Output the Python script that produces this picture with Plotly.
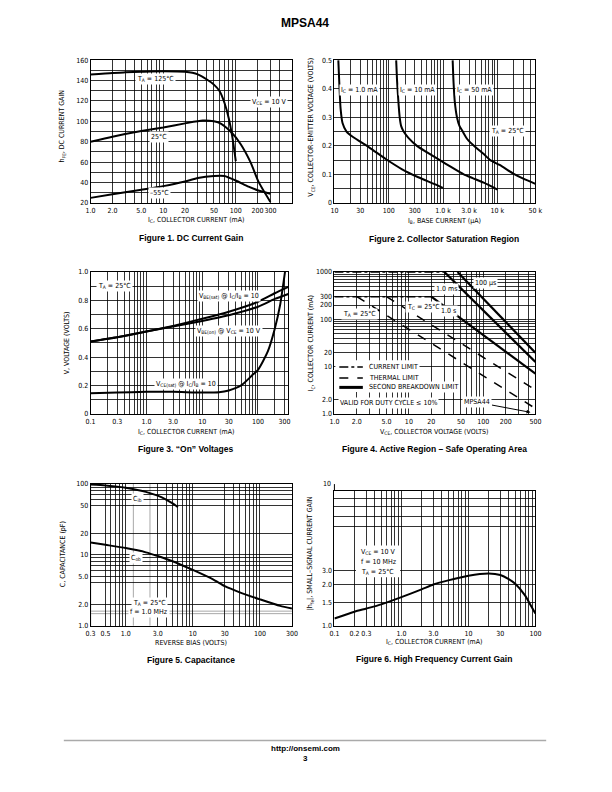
import math
import plotly.graph_objects as go

W, H = 612, 792

# ---------------- Figure 1: DC current gain ----------------
f1_ic_125 = [1, 2, 3, 5, 10, 20, 30, 40, 50, 60, 70, 80, 90, 100]
f1_hfe_125 = [146, 147.5, 148, 148.5, 149, 148.5, 146, 141, 136, 129.5, 118, 103, 84, 61]
f1_ic_25 = [1, 2, 5, 10, 20, 35, 50, 63, 87.5, 117, 160, 207, 300]
f1_hfe_25 = [80, 85, 90.5, 94, 98, 100.8, 100, 97.6, 89, 77.6, 59.8, 40.4, 21]
f1_ic_m55 = [1, 2, 5, 10, 20, 30, 50, 70, 100, 150, 200, 300]
f1_hfe_m55 = [25, 28.5, 33, 36.5, 41, 44.5, 46.5, 46.5, 42, 36, 32.5, 29]
f1_xlabels = [(1, "1.0"), (2, "2.0"), (5, "5.0"), (10, "10"), (20, "20"), (50, "50"),
              (100, "100"), (200, "200"), (300, "300")]
f1_ylabels = [(v, str(v)) for v in [20, 40, 60, 80, 100, 120, 140, 160]]

# ---------------- Figure 2: collector saturation region ----------------
f2_ib_1 = [11.8, 12.3, 13.0, 14.1, 16.7, 22, 44, 88, 176, 350, 700, 990]
f2_v_1 = [0.5, 0.42, 0.33, 0.28, 0.25, 0.231, 0.194, 0.154, 0.118, 0.09, 0.066, 0.053]
f2_ib_10 = [137, 142, 149, 159, 170, 188, 230, 330, 500, 870, 1400, 2400, 3500, 5600, 10000]
f2_v_10 = [0.5, 0.43, 0.367, 0.3, 0.268, 0.25, 0.228, 0.2, 0.178, 0.15, 0.126, 0.1, 0.087, 0.071, 0.047]
f2_ib_50 = [1500, 1560, 1650, 1800, 2000, 2300, 2800, 3700, 5600, 7400, 11000, 20000, 30000, 50000]
f2_v_50 = [0.5, 0.42, 0.35, 0.3, 0.27, 0.25, 0.223, 0.2, 0.171, 0.15, 0.133, 0.102, 0.085, 0.067]
f2_xlabels = [(10, "10"), (30, "30"), (100, "100"), (300, "300"), (1000, "1.0 k"),
              (3000, "3.0 k"), (10000, "10 k"), (50000, "50 k")]
f2_ylabels = [(0, "0"), (0.1, "0.1"), (0.2, "0.2"), (0.3, "0.3"), (0.4, "0.4"), (0.5, "0.5")]

# ---------------- Figure 3: "On" voltages ----------------
f3_ic = [0.1, 0.3, 1, 3, 10, 30, 100, 200, 350]
f3_vbe_sat = [0.51, 0.54, 0.58, 0.62, 0.67, 0.72, 0.79, 0.85, 0.895]
f3_vbe_on = [0.51, 0.54, 0.58, 0.615, 0.655, 0.695, 0.755, 0.81, 0.845]
f3_ic_ce = [0.1, 0.3, 1, 3, 10, 20, 30, 50, 78, 100, 150, 200, 250, 305]
f3_vce_sat = [0.145, 0.15, 0.155, 0.155, 0.15, 0.152, 0.165, 0.2, 0.27, 0.31, 0.44, 0.6, 0.77, 1.0]
f3_xlabels = [(0.1, "0.1"), (0.3, "0.3"), (1, "1.0"), (3, "3.0"), (10, "10"), (30, "30"),
              (100, "100"), (300, "300")]
f3_ylabels = [(0, "0"), (0.2, "0.2"), (0.4, "0.4"), (0.6, "0.6"), (0.8, "0.8"), (1.0, "1.0")]

# ---------------- Figure 4: safe operating area ----------------
f4_100us_v = [45, 500]
f4_100us_i = [1000, 19.5]
f4_1ms_v = [30, 500]
f4_1ms_i = [1000, 12.5]
f4_1s_v = [20, 500]
f4_1s_i = [300, 7.1]
f4_tc_v = [5, 500]
f4_tc_i = [300, 3.2]
f4_ta_v = [2, 500]
f4_ta_i = [300, 1.3]
f4_cl_v = [1, 20]
f4_cl_i = [300, 300]
f4_cl2_v = [1, 30]
f4_cl2_i = [1000, 1000]
f4_xlabels = [(1, "1.0"), (2, "2.0"), (5, "5.0"), (10, "10"), (20, "20"), (50, "50"),
              (100, "100"), (200, "200"), (500, "500")]
f4_ylabels = [(1, "1.0"), (2, "2.0"), (10, "10"), (20, "20"), (100, "100"), (200, "200"),
              (300, "300"), (1000, "1000")]

# ---------------- Figure 5: capacitance ----------------
f5_vr_ib = [0.3, 0.5, 0.7, 1.0, 1.5, 2.0, 3.0, 4.0, 5.0, 6.0]
f5_cib = [98, 95, 92, 88, 82, 77, 68, 60, 53, 47]
f5_vr_ob = [0.3, 0.5, 1.0, 2.0, 3.0, 5.0, 10, 20, 30, 50, 100, 200, 300]
f5_cob = [14.9, 13.8, 12.4, 10.8, 9.6, 8.1, 6.1, 4.5, 3.6, 2.95, 2.35, 1.9, 1.75]
f5_xlabels = [(0.3, "0.3"), (0.5, "0.5"), (1, "1.0"), (3, "3.0"), (10, "10"), (30, "30"),
              (100, "100"), (300, "300")]
f5_ylabels = [(1, "1.0"), (2, "2.0"), (5, "5.0"), (10, "10"), (20, "20"), (50, "50"), (100, "100")]

# ---------------- Figure 6: high frequency current gain ----------------
f6_ic = [0.1, 0.2, 0.3, 0.5, 1.0, 2.0, 3.0, 5.0, 10, 20, 30, 40, 50, 70, 85, 100]
f6_hfe = [1.13, 1.27, 1.34, 1.44, 1.63, 1.86, 2.02, 2.17, 2.35, 2.44, 2.38, 2.22, 2.05, 1.68, 1.42, 1.23]
f6_xlabels = [(0.1, "0.1"), (0.2, "0.2"), (0.3, "0.3"), (1, "1.0"), (3, "3.0"), (10, "10"),
              (30, "30"), (100, "100")]
f6_ygrid = [1.0, 1.48, 2.02, 2.57, 5.44, 6.51, 7.71, 8.78]
f6_ylabels = [(1.0, "1.0"), (1.48, "1.5"), (2.02, "2.0"), (2.57, "3.0")]

# ======================================================================
NARROW = "Liberation Sans Narrow, Arial Narrow, DejaVu Sans Condensed, sans-serif"
BOLDF = "Liberation Sans, Arial, Helvetica, sans-serif"


def px(x):
    return x / W


def py(y):
    return 1 - y / H


def log_grid(exps, upto=None, start=None):
    vals = []
    for e in exps:
        for m in range(1, 10):
            vals.append(m * 10.0 ** e)
    vals.append(10.0 ** (exps[-1] + 1))
    if start is not None:
        vals = [v for v in vals if v >= start * 0.999]
    if upto is not None:
        vals = [v for v in vals if v <= upto * 1.001]
    return vals


def lin_grid(lo, hi, step):
    n = int(round((hi - lo) / step))
    return [round(lo + i * step, 6) for i in range(n + 1)]


def same(a, b):
    if b == 0 or a == 0:
        return abs(a - b) < 1e-9
    return abs(a / b - 1) < 1e-3


def without(grid, remove):
    return [g for g in grid if not any(same(g, r) for r in remove)]


fig = go.Figure()
layout = {}
TICKFONT = dict(family=NARROW, size=7, color="black")


def axis_dict(grid, labels):
    major = [v for v, _ in labels]
    text = [s for _, s in labels]
    minor = without(grid, major)
    d = dict(tickvals=major, ticktext=text)
    if minor:
        d["minor"] = dict(tickmode="array", tickvals=minor, showgrid=True, gridcolor="black",
                          gridwidth=0.8, ticks="")
    return d


def setup(n, box, xtype, xrange, xgrid, xlabels, ytype, yrange, ygrid, ylabels):
    l, t, r, b = box
    xk = "xaxis" if n == 1 else f"xaxis{n}"
    yk = "yaxis" if n == 1 else f"yaxis{n}"
    common = dict(showgrid=True, gridcolor="black", gridwidth=0.8, showline=True, mirror=True,
                  linecolor="black", linewidth=1, ticks="", zeroline=False, tickfont=TICKFONT,
                  tickmode="array", fixedrange=True, tickangle=0)
    xa = dict(common, domain=[px(l), px(r)], anchor=f"y{n if n > 1 else ''}", type=xtype,
              range=xrange, ticklabelstandoff=1, **axis_dict(xgrid, xlabels))
    ya = dict(common, domain=[py(b), py(t)], anchor=f"x{n if n > 1 else ''}", type=ytype,
              range=yrange, **axis_dict(ygrid, ylabels))
    layout[xk] = xa
    layout[yk] = ya


shapes = []
annotations = []


def gray_line(n, axis, value):
    sfx = "" if n == 1 else str(n)
    v = math.log10(value)
    if axis == "y":
        shapes.append(dict(type="line", xref=f"x{sfx} domain", yref=f"y{sfx}", x0=0, x1=1,
                           y0=v, y1=v, line=dict(color="#a8a8a8", width=1), layer="below"))
    else:
        shapes.append(dict(type="line", xref=f"x{sfx}", yref=f"y{sfx} domain", x0=v, x1=v,
                           y0=0, y1=1, line=dict(color="#a8a8a8", width=1), layer="below"))


def curve(n, x, y, width=2.0, dash="solid", shape="spline"):
    fig.add_trace(go.Scatter(
        x=x, y=y, mode="lines",
        xaxis="x" if n == 1 else f"x{n}", yaxis="y" if n == 1 else f"y{n}",
        line=dict(color="black", width=width, dash=dash, shape=shape, smoothing=0.6),
        hoverinfo="skip", showlegend=False))


def ann(text, x, y, size=7, bg=False, xanchor="center", angle=0, family=NARROW, color="black"):
    d = dict(text=text, x=px(x), y=py(y), xref="paper", yref="paper", showarrow=False,
             xanchor=xanchor, yanchor="middle", textangle=angle,
             font=dict(family=family, size=size, color=color))
    if bg:
        d.update(bgcolor="white", borderpad=1)
    annotations.append(d)


def caption(text, x, y):
    ann("<b>" + text + "</b>", x, y, size=8.5, family=BOLDF)


# ---------------- Figure 1 ----------------
setup(1, (87.3, 56.7, 293, 201), "log", [0, 2.778],
      log_grid([0, 1, 2], upto=400), f1_xlabels,
      "linear", [20, 160], lin_grid(20, 160, 10), f1_ylabels)
curve(1, f1_ic_125, f1_hfe_125)
curve(1, f1_ic_25, f1_hfe_25)
curve(1, f1_ic_m55, f1_hfe_m55)
ann("T<sub>A</sub> = 125°C", 153, 76, bg=True)
ann("V<sub>CE</sub> = 10 V", 269, 99, bg=True)
ann("25°C", 157, 134, bg=True)
ann("–55°C", 158, 190.5, bg=True)
ann("h<sub>FE</sub>, DC CURRENT GAIN", 58, 123, angle=-90)
ann("I<sub>C</sub>, COLLECTOR CURRENT (mA)", 195, 218.5)
caption("Figure 1. DC Current Gain", 190, 236.5)

# ---------------- Figure 2 ----------------
setup(2, (336, 56.7, 541, 201), "log", [1, 4.699],
      log_grid([1, 2, 3, 4], upto=50000), f2_xlabels,
      "linear", [0, 0.5], lin_grid(0, 0.5, 0.05), f2_ylabels)
curve(2, f2_ib_1, f2_v_1)
curve(2, f2_ib_10, f2_v_10)
curve(2, f2_ib_50, f2_v_50)
ann("I<sub>C</sub> = 1.0 mA", 362, 86.7, bg=True)
ann("I<sub>C</sub> = 10 mA", 421, 86.7, bg=True)
ann("I<sub>C</sub> = 50 mA", 479, 86.7, bg=True)
ann("T<sub>A</sub> = 25°C", 513, 128, bg=True)
ann("V<sub>CE</sub>, COLLECTOR–EMITTER VOLTAGE (VOLTS)", 312, 124, angle=-90)
ann("I<sub>B</sub>, BASE CURRENT (μA)", 448, 219)
caption("Figure 2. Collector Saturation Region", 448, 237)

# ---------------- Figure 3 ----------------
setup(3, (87.3, 270.7, 289, 414), "log", [-1, 2.544],
      log_grid([-1, 0, 1, 2], upto=300), f3_xlabels,
      "linear", [0, 1.0], lin_grid(0, 1.0, 0.1), f3_ylabels)
curve(3, f3_ic, f3_vbe_sat)
curve(3, f3_ic, f3_vbe_on)
curve(3, f3_ic_ce, f3_vce_sat)
ann("T<sub>A</sub> = 25°C", 112, 285, bg=True)
ann("V<sub>BE(sat)</sub> @ I<sub>C</sub>/I<sub>B</sub> = 10", 228, 295, bg=True)
ann("V<sub>BE(on)</sub> @ V<sub>CE</sub> = 10 V", 228, 330, bg=True)
ann("V<sub>CE(sat)</sub> @ I<sub>C</sub>/I<sub>B</sub> = 10", 185, 384, bg=True)
ann("V, VOLTAGE (VOLTS)", 63, 342, angle=-90)
ann("I<sub>C</sub>, COLLECTOR CURRENT (mA)", 185, 432)
caption("Figure 3. “On” Voltages", 185, 450)

# ---------------- Figure 4 ----------------
f4_gray = [3, 4, 5, 6, 7, 8, 9]
setup(4, (336, 270.7, 541, 414), "log", [0, 2.699],
      log_grid([0, 1, 2], upto=500), f4_xlabels,
      "log", [0, 3], without(log_grid([0, 1, 2]), f4_gray), f4_ylabels)
for g in f4_gray:
    gray_line(4, "y", g)
curve(4, f4_cl2_v, f4_cl2_i, width=1.5, dash="dashdot", shape="linear")
curve(4, f4_cl_v, f4_cl_i, width=1.5, dash="dashdot", shape="linear")
curve(4, f4_ta_v, f4_ta_i, width=1.5, dash="dash", shape="linear")
curve(4, f4_tc_v, f4_tc_i, width=1.5, dash="dash", shape="linear")
curve(4, f4_1s_v, f4_1s_i, width=2.2, shape="linear")
curve(4, f4_1ms_v, f4_1ms_i, width=2.2, shape="linear")
curve(4, f4_100us_v, f4_100us_i, width=2.2, shape="linear")
# legend box background
shapes.append(dict(type="rect", xref="paper", yref="paper", x0=px(337), x1=px(420),
                   y0=py(392), y1=py(360), fillcolor="white", line=dict(width=0), layer="above"))
shapes.append(dict(type="rect", xref="paper", yref="paper", x0=px(419), x1=px(453),
                   y0=py(392), y1=py(382), fillcolor="white", line=dict(width=0), layer="above"))
for yy, dsh, wd in [(366.7, "dashdot", 1.5), (377.7, "dash", 1.5), (387.3, "solid", 3)]:
    shapes.append(dict(type="line", xref="paper", yref="paper", x0=px(341), x1=px(365),
                       y0=py(yy), y1=py(yy), line=dict(color="black", width=wd, dash=dsh),
                       layer="above"))
ann("CURRENT LIMIT", 369, 366.7, xanchor="left", bg=True)
ann("THERMAL LIMIT", 369, 377.7, xanchor="left", bg=True)
ann("SECOND BREAKDOWN LIMIT", 369, 387.3, xanchor="left", bg=True)
ann("VALID FOR DUTY CYCLE ≤ 10%", 391, 402.7, bg=True)
annotations.append(dict(text="MPSA44", x=px(536), y=py(412.5), xref="paper", yref="paper",
                        showarrow=True, ax=-53, ay=-10, arrowhead=2, arrowsize=0.8,
                        arrowwidth=1, arrowcolor="black", bgcolor="white", borderpad=1,
                        font=dict(family=NARROW, size=7, color="black")))
ann("T<sub>A</sub> = 25°C", 362, 313, bg=True)
ann("T<sub>C</sub> = 25°C", 427, 306.5, bg=True)
ann("1.0 s", 452, 310, bg=True)
ann("1.0 ms", 450, 288.3, bg=True)
ann("100 μs", 490, 281.7, bg=True)
ann("I<sub>C</sub>, COLLECTOR CURRENT (mA)", 312, 342, angle=-90)
ann("V<sub>CE</sub>, COLLECTOR VOLTAGE (VOLTS)", 438, 432)
caption("Figure 4. Active Region – Safe Operating Area", 438, 450)

# ---------------- Figure 5 ----------------
f5_x_gray = [0.4, 2, 20, 200]
f5_y_gray = [3, 30, 40]
setup(5, (87.3, 484.7, 292.7, 628), "log", [-0.5229, 2.4771],
      without(log_grid([-1, 0, 1, 2], start=0.3, upto=300), f5_x_gray), f5_xlabels,
      "log", [0, 2], without(log_grid([0, 1]), f5_y_gray), f5_ylabels)
for g in f5_x_gray:
    gray_line(5, "x", g)
for g in f5_y_gray:
    gray_line(5, "y", g)
curve(5, f5_vr_ib, f5_cib)
curve(5, f5_vr_ob, f5_cob)
ann("C<sub>ib</sub>", 135, 499.7, bg=True)
ann("C<sub>ob</sub>", 133.5, 559.7, bg=True)
ann("T<sub>A</sub> = 25°C", 147, 604.7, bg=True)
ann("f = 1.0 MHz", 147, 614.7, bg=True)
ann("C, CAPACITANCE (pF)", 60, 556, angle=-90)
ann("REVERSE BIAS (VOLTS)", 190, 645.7)
caption("Figure 5. Capacitance", 190, 663)

# ---------------- Figure 6 ----------------
setup(6, (336, 492, 541, 628), "log", [-1, 2],
      log_grid([-1, 0, 1]), f6_xlabels,
      "log", [0, 1], f6_ygrid, f6_ylabels)
curve(6, f6_ic, f6_hfe)
shapes.append(dict(type="rect", xref="paper", yref="paper", x0=px(358), x1=px(403),
                   y0=py(579), y1=py(547), fillcolor="white", line=dict(width=0), layer="above"))
ann("V<sub>CE</sub> = 10 V", 361, 554, xanchor="left")
ann("f = 10 MHz", 361, 564, xanchor="left")
ann("T<sub>A</sub> = 25°C", 361, 573.5, xanchor="left")
ann("10", 328, 485)
shapes.append(dict(type="line", xref="paper", yref="paper", x0=px(336), x1=px(336),
                   y0=py(492), y1=py(485), line=dict(color="black", width=1)))
ann("|h<sub>fe</sub>|, SMALL–SIGNAL CURRENT GAIN", 312, 555, angle=-90)
ann("I<sub>C</sub>, COLLECTOR CURRENT (mA)", 438, 645)
caption("Figure 6. High Frequency Current Gain", 438, 662)

# ---------------- page header / footer ----------------
ann("<b>MPSA44</b>", 306, 19, size=12, family=BOLDF)
shapes.append(dict(type="line", xref="paper", yref="paper", x0=px(60), x1=px(552),
                   y0=py(744), y1=py(744), line=dict(color="#aaaaaa", width=1.5)))
ann("<b>http://onsemi.com</b>", 306, 752, size=8, family=BOLDF)
ann("<b>3</b>", 306, 762, size=8, family=BOLDF)

fig.update_layout(
    width=W, height=H, autosize=False,
    margin=dict(l=0, r=0, t=0, b=0),
    paper_bgcolor="white", plot_bgcolor="white",
    showlegend=False,
    annotations=annotations, shapes=shapes,
    **layout,
)

fig.write_html("out.html", config={"displayModeBar": False, "staticPlot": True},
               post_script="document.body.style.margin='0';document.body.style.overflow='hidden';")
